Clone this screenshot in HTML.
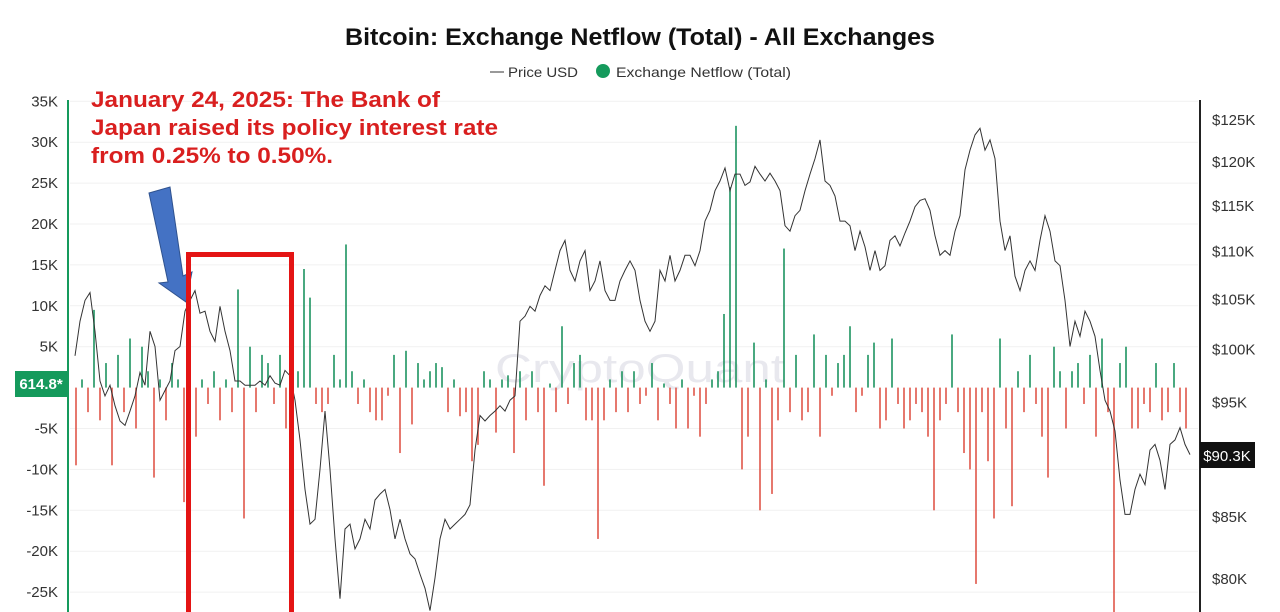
<!DOCTYPE html>
<html><head><meta charset="utf-8"><style>
html,body{margin:0;padding:0;background:#fff;}
svg{display:block;font-family:"Liberation Sans",sans-serif;}
</style></head><body>
<svg id="chart" width="1280" height="612" viewBox="0 0 1280 612">
<text x="640" y="45" text-anchor="middle" font-size="24" font-weight="bold" fill="#111" textLength="590" lengthAdjust="spacingAndGlyphs">Bitcoin: Exchange Netflow (Total) - All Exchanges</text>
<g>
<line x1="490" y1="72" x2="504" y2="72" stroke="#555" stroke-width="1.2"/>
<text x="508" y="77" font-size="14" fill="#333" textLength="70" lengthAdjust="spacingAndGlyphs">Price USD</text>
<circle cx="603" cy="71" r="7" fill="#159a5c"/>
<text x="616" y="77" font-size="14" fill="#333" textLength="175" lengthAdjust="spacingAndGlyphs">Exchange Netflow (Total)</text>
</g>
<text x="640" y="382" text-anchor="middle" font-size="40" fill="#e8e8ee" textLength="290" lengthAdjust="spacingAndGlyphs">CryptoQuant</text>
<g id="grid"></g>
<g id="bars"></g>
<path id="price" fill="none" stroke="#333" stroke-width="1"/>
<line x1="68" y1="100" x2="68" y2="612" stroke="#159a5c" stroke-width="2"/>
<line x1="1200" y1="100" x2="1200" y2="612" stroke="#222" stroke-width="2"/>
<g id="laxis"></g>
<g id="raxis"></g>
<rect x="15" y="371" width="53" height="26" fill="#159a5c"/>
<text x="41" y="389" text-anchor="middle" font-size="15" fill="#fff" font-weight="bold">614.8*</text>
<rect x="1200" y="442" width="55" height="26" fill="#111"/>
<text x="1227" y="461" text-anchor="middle" font-size="15" fill="#fff">$90.3K</text>
<g font-weight="bold" font-size="22" fill="#d91f1f">
<text x="91" y="107" textLength="349" lengthAdjust="spacingAndGlyphs">January 24, 2025: The Bank of</text>
<text x="91" y="135" textLength="407" lengthAdjust="spacingAndGlyphs">Japan raised its policy interest rate</text>
<text x="91" y="163" textLength="242" lengthAdjust="spacingAndGlyphs">from 0.25% to 0.50%.</text>
</g>
<polygon points="149,193 170,187 183,276 192,272 186,302 159,283 168,282" fill="#4472c4" stroke="#2f528f" stroke-width="1"/>
<path d="M188.5,615 L188.5,254.5 L291.5,254.5 L291.5,615" fill="none" stroke="#e41414" stroke-width="5"/>
</svg>
<script>
const netflowK = [-9.5,1,-3,9.5,-4,3,-9.5,4,-3,6,-5,5,2,-11,1,-4,3,1,-14,-5,-6,1,-2,2,-4,1,-3,12,-16,5,-3,4,3,-2,4,-5,2,
2,14.5,11,-2,-3,-2,4,1,17.5,2,-2,1,-3,-4,-4,-1,4,-8,4.5,-4.5,3,1,2,3,2.5,-3,1,-3.5,
-3,-9,-7,2,1,-5.5,1,1.5,-8,2,-4,2,-3,-12,0.5,-3,7.5,-2,3,4,-4,-4,-18.5,-4,1,-3,2,-3,2,-2,-1,3,-4,0.5,-2,-5,1,-5,
-1,-6,-2,1,2,9,24.5,32,-10,-6,5.5,-15,1,-13,-4,17,-3,4,-4,-3,6.5,-6,4,-1,3,4,7.5,-3,-1,4,5.5,-5,-4,6,-2,-5,-4,-2,-3,-6,-15,-4,-2,6.5,-3,-8,-10,-24,-3,-9,-16,6,-5,-14.5,2,-3,4,-2,-6,-11,5,2,-5,2,3,-2,4,-6,6,-3,-28,3,5,-5,-5,-2,-3,3,-4,-3,3,-3,-5];
const priceK = [99.4,102.8,104.9,105.7,101.8,97.0,95.6,96.6,94.7,93.3,92.9,94.2,95.6,97.8,96.6,101.8,100.3,95.2,96.1,97.0,99.9,100.3,103.8,104.9,105.9,103.6,103.8,101.8,100.8,104.3,101.8,99.9,97.0,97.0,96.6,96.6,96.6,97.0,96.6,97.5,96.8,96.6,98.0,97.5,95.2,91.6,87.3,84.4,84.8,89.0,94.2,89.0,83.2,78.5,84.0,84.4,82.4,83.2,84.8,84.0,86.4,86.9,87.3,85.6,83.2,84.8,83.2,82.0,81.6,80.4,79.3,77.6,80.1,83.2,84.8,84.0,84.4,84.8,85.2,86.0,90.7,93.8,93.3,93.8,94.2,94.7,94.2,95.2,95.6,102.8,103.3,104.3,103.8,105.4,106.4,105.9,108.0,110.1,111.2,108.0,106.9,109.0,110.1,105.9,106.9,109.0,105.9,104.9,104.9,106.9,108.0,109.0,108.0,104.9,102.8,101.8,102.8,108.0,106.9,109.6,106.9,108.0,109.6,109.6,108.5,110.1,113.3,114.5,116.7,117.8,119.3,116.7,118.6,118.6,117.3,117.7,119.5,118.6,117.8,118.7,117.8,116.7,112.8,112.2,113.9,114.5,116.7,118.6,120.4,122.6,117.8,117.3,116.1,113.3,113.3,112.8,110.1,112.2,110.5,108.0,110.1,108.0,108.5,111.2,111.7,110.6,112.0,113.3,114.9,115.6,115.8,114.5,111.7,109.6,110.1,109.6,112.2,113.9,119.1,121.4,123.2,124.0,121.4,122.6,120.4,113.3,110.1,111.7,107.4,105.9,108.0,109.0,108.0,111.2,113.9,112.2,109.0,108.5,104.9,100.3,102.8,101.3,103.8,102.8,101.3,98.0,95.2,94.2,92.4,88.1,85.2,85.2,87.3,88.6,87.7,90.7,91.2,89.8,87.3,91.2,91.6,92.7,91.2,90.3];
const leftTicks = [35,30,25,20,15,10,5,-5,-10,-15,-20,-25];
const rightTicks = [125,120,115,110,105,100,95,85,80];

const NS = "http://www.w3.org/2000/svg";
function yL(v){ return 387.6 - v * 8.18; }
function yR(p){ return 120 + 1029 * Math.log(125 / p); }
function xBar(i){ return 76 + i * (1110 / (netflowK.length - 1)); }
function xPrice(i){ return 75 + i * (1115 / (priceK.length - 1)); }
function mk(tag, attrs, parent){ const e = document.createElementNS(NS, tag); for (const k in attrs) e.setAttribute(k, attrs[k]); parent.appendChild(e); return e; }

const grid = document.getElementById('grid');
const laxis = document.getElementById('laxis');
leftTicks.forEach(t => {
  const g = mk('line', {x1:70, x2:1198, y1:yL(t), y2:yL(t), stroke:'#f1f1f1', 'stroke-width':1}, grid);
  
  
  const tx = mk('text', {x:58, y:yL(t)+5, 'text-anchor':'end', 'font-size':15, fill:'#333'}, laxis);
  tx.textContent = t + 'K';
  
  
});
const raxis = document.getElementById('raxis');
rightTicks.forEach(t => {
  const tx = mk('text', {x:1212, y:yR(t*1000/1000)+5, 'font-size':15, fill:'#333'}, raxis);
  tx.textContent = '$' + t + 'K';
  
  
});
const bars = document.getElementById('bars');
netflowK.forEach((v, i) => {
  const x = xBar(i), y0 = yL(0), y1 = yL(v);
  const b = mk('rect', {x:x-0.8, width:1.6, y:Math.min(y0,y1), height:Math.max(0.8, Math.abs(y1-y0)), fill: v >= 0 ? '#1e9460' : '#e0564a'}, bars);
  
  
});
let d = '';
priceK.forEach((p, i) => { d += (i ? 'L' : 'M') + xPrice(i).toFixed(1) + ',' + yR(p).toFixed(1); });
document.getElementById('price').setAttribute('d', d);
</script>
</body></html>
